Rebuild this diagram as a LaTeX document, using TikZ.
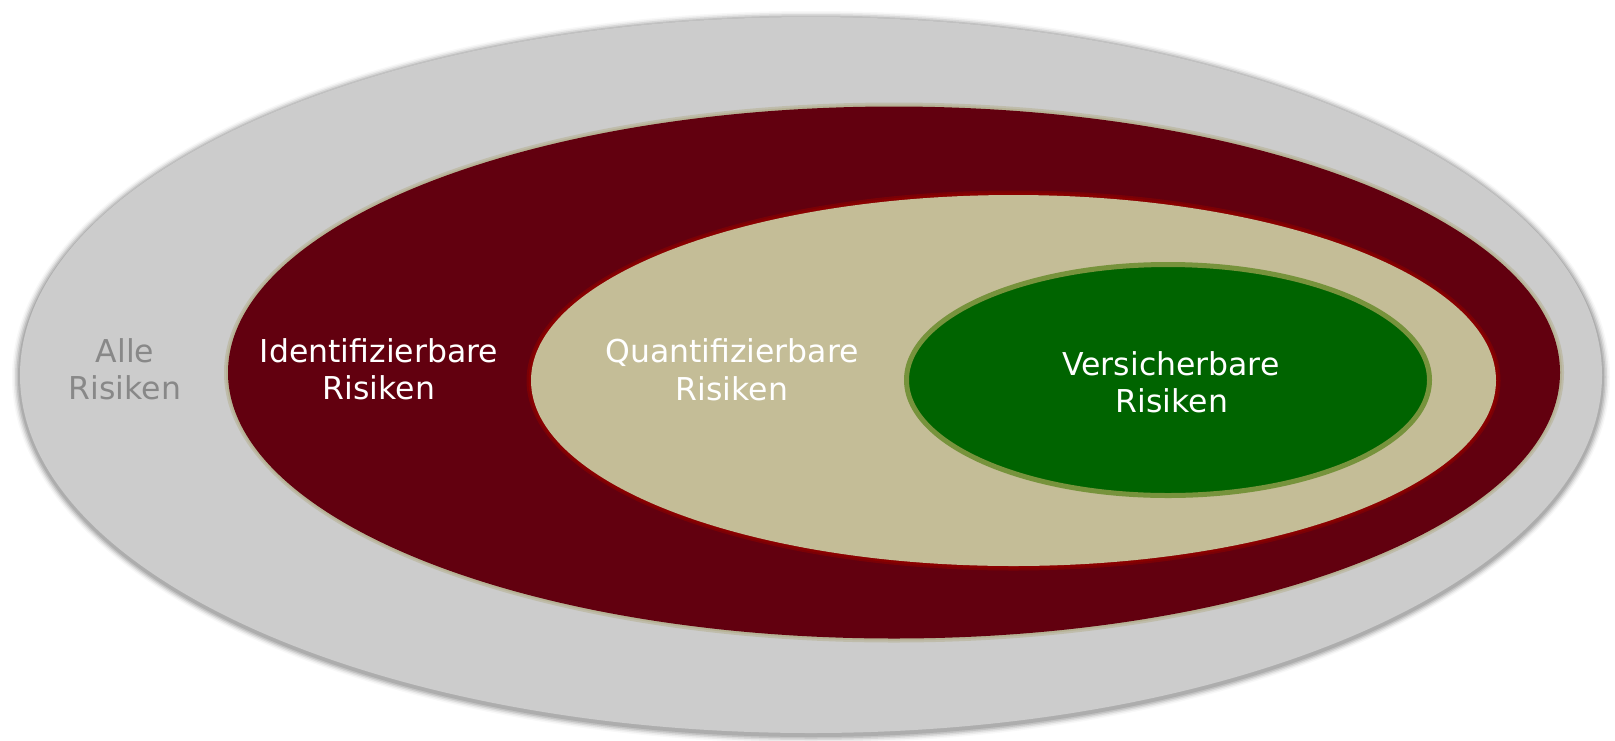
\documentclass[tikz,border=0pt]{standalone}
\usepackage{fontspec}
\setmainfont{DejaVu Sans}
\definecolor{greyfill}{HTML}{CCCCCC}
\definecolor{greyshadow}{HTML}{A0A0A0}
\definecolor{darkred}{HTML}{62000F}
\definecolor{redline}{HTML}{8A0000}
\definecolor{beige}{HTML}{C4BD97}
\definecolor{beigeglow}{HTML}{B3AE8C}
\definecolor{darkgreen}{HTML}{006400}
\definecolor{olive}{HTML}{77933C}
\definecolor{labelgrey}{HTML}{888888}
\tikzset{
  lbl/.style={anchor=base, inner sep=0pt, font=\fontsize{31.5}{37}\selectfont, text=white},
  greylbl/.style={lbl, text=labelgrey},
}
\begin{document}
\begin{tikzpicture}[x=1pt,y=-1pt]
\useasboundingbox (0,0) rectangle (1615,740);
% soft shadow of outer ellipse
\foreach \d/\o in {8/0.08,6.5/0.15,5/0.25,3.5/0.4,2/0.6}{
  \fill[greyshadow, opacity=\o] (811,377) ellipse [x radius={791+\d}, y radius={358+\d}];
}
\fill[greyfill] (811,375) ellipse [x radius=791, y radius=358];
% glow of dark red ellipse
\fill[beigeglow, opacity=0.5] (894,372.5) ellipse [x radius=670, y radius=270];
\fill[beigeglow, opacity=0.7] (894,372.5) ellipse [x radius=668, y radius=268];
\fill[darkred] (894,372.5) ellipse [x radius=666, y radius=266];
% beige ellipse
\fill[redline, opacity=0.6] (1013.5,380.5) ellipse [x radius=487, y radius=190];
\fill[redline] (1013.5,380.5) ellipse [x radius=485, y radius=188];
\fill[beige] (1013.5,380.5) ellipse [x radius=482.5, y radius=185.5];
% green ellipse
\draw[olive, line width=5pt, fill=darkgreen] (1168,380) ellipse [x radius=261.5, y radius=115.5];
% labels
\node[greylbl] (alle1) at (125,362) {Alle};
\node[greylbl] (alle2) at (125,399) {Risiken};
\node[lbl] (id1) at (379,362.5) {Identifizierbare};
\node[lbl] (id2) at (379,399.5) {Risiken};
\node[lbl] (qu1) at (732,362) {Quantifizierbare};
\node[lbl] (qu2) at (732,400) {Risiken};
\node[lbl] (ve1) at (1171,375) {Versicherbare};
\node[lbl] (ve2) at (1172,412) {Risiken};
\end{tikzpicture}
\end{document}
